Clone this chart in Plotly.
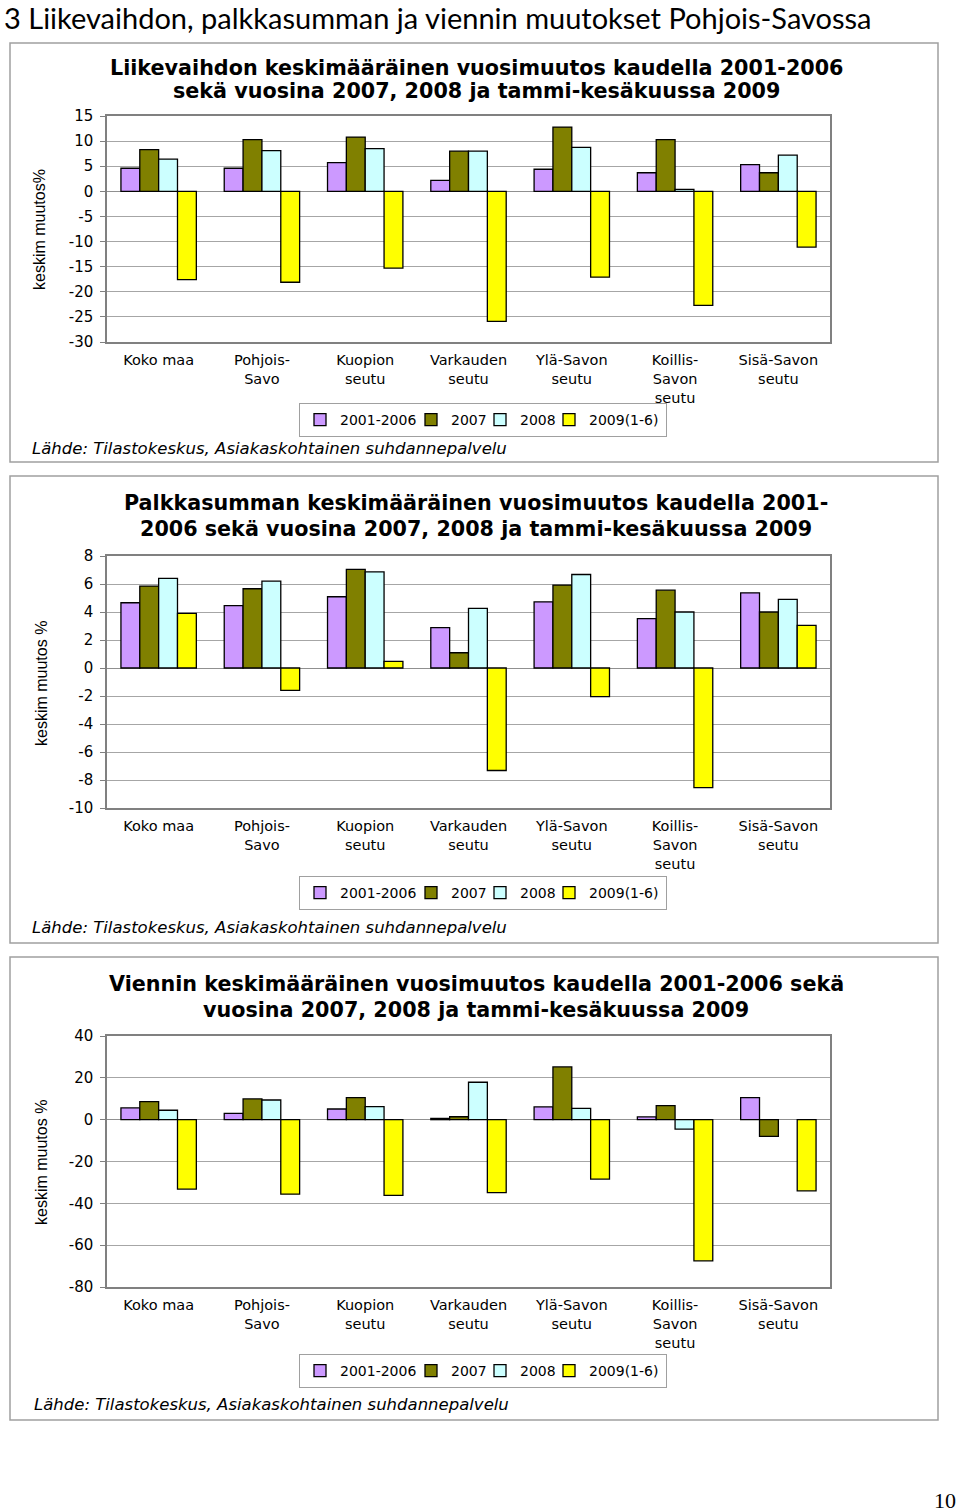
import plotly.graph_objects as go

W, H = 960, 1512

categories = ["Koko maa", "Pohjois-Savo", "Kuopion seutu", "Varkauden seutu",
              "Ylä-Savon seutu", "Koillis-Savon seutu", "Sisä-Savon seutu"]
tick_labels = ["Koko maa", "Pohjois-<br>Savo", "Kuopion<br>seutu", "Varkauden<br>seutu",
               "Ylä-Savon<br>seutu", "Koillis-<br>Savon<br>seutu", "Sisä-Savon<br>seutu"]
series_names = ["2001-2006", "2007", "2008", "2009(1-6)"]
series_colors = ["#CC99FF", "#808000", "#CCFFFF", "#FFFF00"]

# Chart 1: Liikevaihto
lv_2001_2006 = [4.6, 4.6, 5.7, 2.2, 4.4, 3.7, 5.3]
lv_2007 = [8.3, 10.3, 10.8, 8.0, 12.8, 10.3, 3.7]
lv_2008 = [6.4, 8.1, 8.5, 8.0, 8.75, 0.4, 7.2]
lv_2009 = [-17.6, -18.1, -15.3, -25.9, -17.1, -22.7, -11.1]
lv_ticks = [-30, -25, -20, -15, -10, -5, 0, 5, 10, 15]

# Chart 2: Palkkasumma
ps_2001_2006 = [4.66, 4.45, 5.09, 2.88, 4.73, 3.52, 5.37]
ps_2007 = [5.85, 5.66, 7.04, 1.09, 5.92, 5.56, 4.0]
ps_2008 = [6.4, 6.2, 6.87, 4.26, 6.68, 4.0, 4.9]
ps_2009 = [3.9, -1.6, 0.48, -7.32, -2.04, -8.54, 3.04]
ps_ticks = [-10, -8, -6, -4, -2, 0, 2, 4, 6, 8]

# Chart 3: Vienti
vi_2001_2006 = [5.6, 3.0, 5.1, 0.6, 6.1, 1.3, 10.5]
vi_2007 = [8.6, 9.9, 10.5, 1.4, 25.2, 6.7, -8.0]
vi_2008 = [4.5, 9.4, 6.2, 17.9, 5.4, -4.5, None]
vi_2009 = [-33.2, -35.6, -36.2, -34.9, -28.4, -67.5, -34.0]
vi_ticks = [-80, -60, -40, -20, 0, 20, 40]

charts = [
    dict(series=[lv_2001_2006, lv_2007, lv_2008, lv_2009], ticks=lv_ticks,
         top=116, bottom=342,
         title=[("Liikevaihdon keskimääräinen vuosimuutos kaudella 2001-2006", 68),
                ("sekä vuosina 2007, 2008 ja tammi-kesäkuussa 2009", 91)],
         ytitle="keskim muutos%", ytx=40, yty=230, legy=420, srcx=30, srcy=448,
         box=(43, 462)),
    dict(series=[ps_2001_2006, ps_2007, ps_2008, ps_2009], ticks=ps_ticks,
         top=556, bottom=808,
         title=[("Palkkasumman keskimääräinen vuosimuutos kaudella 2001-", 503),
                ("2006 sekä vuosina 2007, 2008 ja tammi-kesäkuussa 2009", 529)],
         ytitle="keskim muutos %", ytx=42, yty=684, legy=893, srcx=30, srcy=927,
         box=(476, 943)),
    dict(series=[vi_2001_2006, vi_2007, vi_2008, vi_2009], ticks=vi_ticks,
         top=1036, bottom=1287,
         title=[("Viennin keskimääräinen vuosimuutos kaudella 2001-2006 sekä", 984),
                ("vuosina 2007, 2008 ja tammi-kesäkuussa 2009", 1010)],
         ytitle="keskim muutos %", ytx=41, yty=1163, legy=1371, srcx=32, srcy=1404,
         box=(957, 1420)),
]

# legend entry widths (px) tuned to the reference legend box
legend_entry_widths = [66, 24, 24, 72]

def py(px):
    return 1 - px / H

def pxx(px):
    return px / W

SANS = "DejaVu Sans"
ARIAL = "Liberation Sans"
GRID = "#A6A6A6"

fig = go.Figure()
layout = dict(
    width=W, height=H, margin=dict(l=0, r=0, t=0, b=0, pad=0, autoexpand=False),
    paper_bgcolor="white", plot_bgcolor="white",
    barmode="group", bargap=0.27, bargroupgap=0,
    font=dict(family=SANS, color="black"),
    annotations=[], shapes=[],
)

for k, ch in enumerate(charts, start=1):
    suffix = "" if k == 1 else str(k)
    legname = "legend" if k == 1 else f"legend{k}"
    for name, color, vals, lw in zip(series_names, series_colors, ch["series"], legend_entry_widths):
        fig.add_trace(go.Bar(
            x=categories, y=vals, name=name,
            marker=dict(color=color, line=dict(color="black", width=1.3)),
            xaxis="x" + suffix, yaxis="y" + suffix, legend=legname,
            legendwidth=lw, hoverinfo="x+y+name",
        ))
    layout["xaxis" + suffix] = dict(
        domain=[pxx(107), pxx(830)], anchor="y" + suffix, automargin=False,
        type="category", tickvals=categories, ticktext=tick_labels,
        showline=True, mirror=True, linecolor="#808080", linewidth=1.5,
        ticks="", ticklabelstandoff=4,
        tickfont=dict(family=SANS, size=14.5, color="black"),
        showgrid=False, zeroline=False,
    )
    t = ch["ticks"]
    layout["yaxis" + suffix] = dict(
        domain=[py(ch["bottom"]), py(ch["top"])], anchor="x" + suffix, automargin=False,
        range=[t[0], t[-1]], tickvals=t, ticktext=[str(v) for v in t],
        showline=True, mirror=True, linecolor="#808080", linewidth=1.5,
        ticks="outside", ticklen=5, tickcolor="#808080", ticklabelstandoff=4,
        tickfont=dict(family=SANS, size=15, color="black"),
        showgrid=True, gridcolor=GRID, gridwidth=1,
        zeroline=True, zerolinecolor="#909090", zerolinewidth=1,
    )
    layout[legname] = dict(
        orientation="h", x=pxx(483), y=py(ch["legy"]), xanchor="center", yanchor="middle",
        bordercolor="#A0A0A0", borderwidth=1, bgcolor="white", tracegroupgap=0,
        font=dict(family=SANS, size=14, color="black"),
        traceorder="normal", itemclick=False, itemdoubleclick=False,
    )
    for text, y in ch["title"]:
        layout["annotations"].append(dict(
            text=f"<b>{text}</b>", x=pxx(476), y=py(y), xref="paper", yref="paper",
            xanchor="center", yanchor="middle", showarrow=False,
            font=dict(family=SANS, size=20.7, color="black"),
        ))
    layout["annotations"].append(dict(
        text=ch["ytitle"], x=pxx(ch["ytx"]), y=py(ch["yty"]), xref="paper", yref="paper",
        xanchor="center", yanchor="middle", textangle=-90, showarrow=False,
        font=dict(family=ARIAL, size=16, color="black"),
    ))
    layout["annotations"].append(dict(
        text="<i>Lähde: Tilastokeskus, Asiakaskohtainen suhdannepalvelu</i>",
        x=pxx(ch["srcx"]), y=py(ch["srcy"]), xref="paper", yref="paper",
        xanchor="left", yanchor="middle", showarrow=False,
        font=dict(family=SANS, size=16.5, color="black"),
    ))
    b0, b1 = ch["box"]
    layout["shapes"].append(dict(
        type="rect", xref="paper", yref="paper",
        x0=pxx(10), x1=pxx(938), y0=py(b1), y1=py(b0),
        line=dict(color="#A0A0A0", width=1.5), fillcolor="rgba(0,0,0,0)", layer="below",
    ))

layout["annotations"].append(dict(
    text="3 Liikevaihdon, palkkasumman ja viennin muutokset Pohjois-Savossa",
    x=pxx(2), y=py(18), xref="paper", yref="paper", xanchor="left", yanchor="middle",
    showarrow=False, font=dict(family="Lato", size=29, color="black"),
))
layout["annotations"].append(dict(
    text="10", x=pxx(958), y=py(1500), xref="paper", yref="paper",
    xanchor="right", yanchor="middle", showarrow=False,
    font=dict(family="Liberation Serif", size=22, color="black"),
))

fig.update_layout(**layout)

post = ("document.body.style.margin='0';document.body.style.padding='0';"
        "var d=document.getElementById('{plot_id}');"
        "d.style.position='absolute';d.style.left='0px';d.style.top='0px';")
fig.write_html("out.html", post_script=post, config={"displayModeBar": False})
